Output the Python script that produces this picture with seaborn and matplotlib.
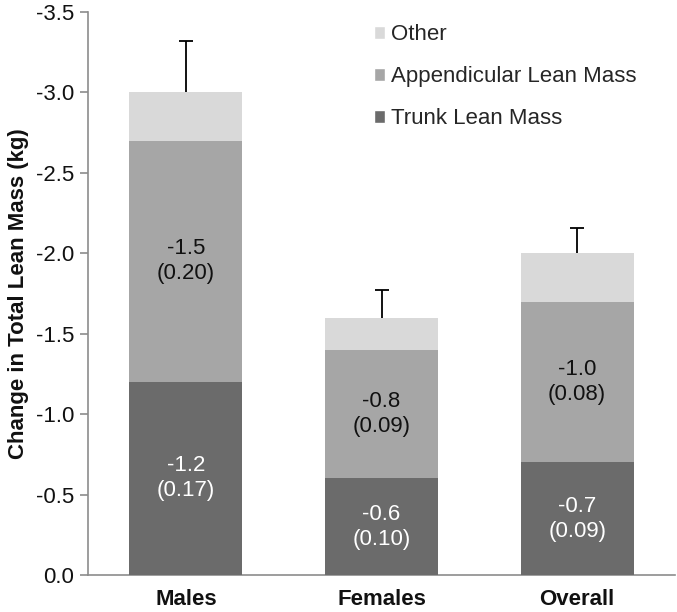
import matplotlib
matplotlib.use("Agg")
import matplotlib.pyplot as plt
import seaborn as sns
import pandas as pd
import numpy as np
from matplotlib.patches import Patch

# ---- data ----
groups = ["Males", "Females", "Overall"]
trunk = [-1.2, -0.6, -0.7]
appendicular = [-1.5, -0.8, -1.0]
other = [-0.3, -0.2, -0.3]
total_se = [0.32, 0.17, 0.16]
trunk_labels = ["-1.2\n(0.17)", "-0.6\n(0.10)", "-0.7\n(0.09)"]
app_labels = ["-1.5\n(0.20)", "-0.8\n(0.09)", "-1.0\n(0.08)"]
ytick_vals = [0.0, -0.5, -1.0, -1.5, -2.0, -2.5, -3.0, -3.5]
ytick_labels = ["0.0", "-0.5", "-1.0", "-1.5", "-2.0", "-2.5", "-3.0", "-3.5"]
series_names = ["Other", "Appendicular Lean Mass", "Trunk Lean Mass"]

c_trunk = "#6b6b6b"
c_app = "#a6a6a6"
c_other = "#d9d9d9"

sns.set_theme(style="white")
plt.rcParams["font.family"] = ["Liberation Sans", "DejaVu Sans"]

df = pd.DataFrame({
    "group": groups,
    "trunk": trunk,
    "trunk_app": np.array(trunk) + np.array(appendicular),
    "total": np.array(trunk) + np.array(appendicular) + np.array(other),
})

fig = plt.figure(figsize=(6.77, 6.12), dpi=100)
ax = fig.add_axes([88 / 677, 37 / 612, (675 - 88) / 677, (575 - 12) / 612])

bw = 0.577
sns.barplot(data=df, x="group", y="total", color=c_other, saturation=1,
            width=bw, ax=ax, linewidth=0, zorder=1)
sns.barplot(data=df, x="group", y="trunk_app", color=c_app, saturation=1,
            width=bw, ax=ax, linewidth=0, zorder=2)
sns.barplot(data=df, x="group", y="trunk", color=c_trunk, saturation=1,
            width=bw, ax=ax, linewidth=0, zorder=3)

# error bars (one-sided, away from zero)
xs = np.arange(len(groups))
eb = ax.errorbar(xs, df["total"], yerr=[total_se, [0] * len(groups)],
                 fmt="none", ecolor="black", elinewidth=1.3, capsize=5,
                 capthick=1.3, zorder=5)
for cl in eb[1]:
    yd = np.asarray(cl.get_ydata(), dtype=float)
    if np.allclose(yd, df["total"].values):
        cl.set_visible(False)

# segment labels
for i in range(len(groups)):
    ax.text(xs[i], trunk[i] / 2, trunk_labels[i], ha="center", va="center",
            color="white", fontsize=16, linespacing=1.25, zorder=6)
    ax.text(xs[i], trunk[i] + appendicular[i] / 2, app_labels[i], ha="center",
            va="center", color="#111111", fontsize=16, linespacing=1.25, zorder=6)

ax.set_xlim(-0.5, 2.5)
ax.set_ylim(0, -3.5)
ax.set_yticks(ytick_vals)
ax.set_yticklabels(ytick_labels, fontsize=16, color="#111111")
ax.set_xticks(xs)
ax.set_xticklabels(groups, fontsize=16, fontweight="bold", color="#111111")
ax.set_xlabel("")
ax.set_ylabel("Change in Total Lean Mass (kg)", fontsize=16, fontweight="bold",
              color="#111111", labelpad=5)

for s in ["top", "right"]:
    ax.spines[s].set_visible(False)
for s in ["left", "bottom"]:
    ax.spines[s].set_color("#8c8c8c")
    ax.spines[s].set_linewidth(1.2)
ax.tick_params(axis="y", which="major", direction="out", length=6, width=1.2,
               color="#8c8c8c", left=True, pad=4)
ax.tick_params(axis="x", which="major", length=0, pad=10)

handles = [Patch(facecolor=c_other), Patch(facecolor=c_app), Patch(facecolor=c_trunk)]
ax.legend(handles, series_names, loc="upper left", bbox_to_anchor=(0.46, 1.006),
          frameon=False, fontsize=16, handlelength=0.5, handleheight=0.5,
          handletextpad=0.3, labelspacing=0.95, borderaxespad=0.3)

fig.savefig("out.png", dpi=100)
